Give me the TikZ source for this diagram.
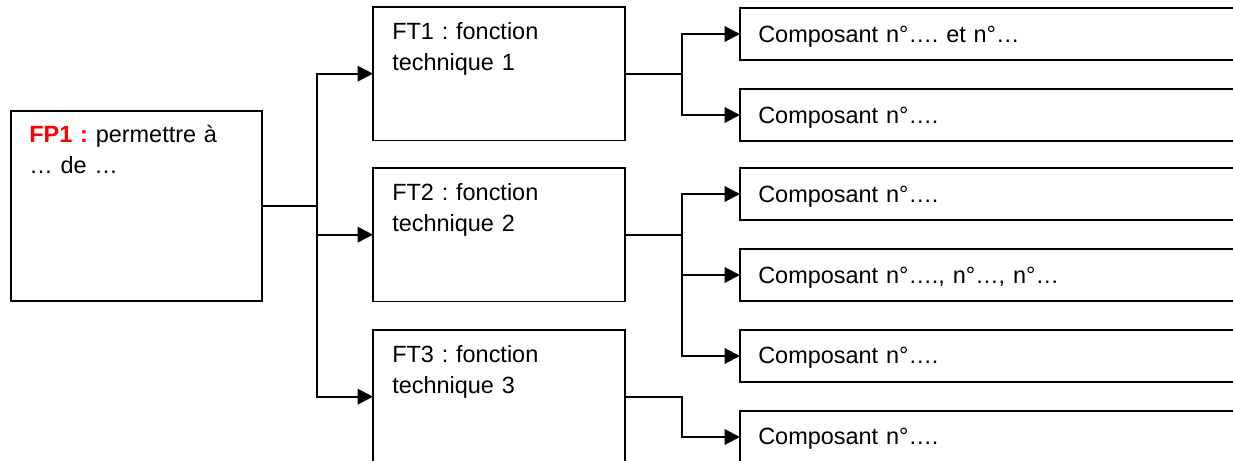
\documentclass[tikz,border=0pt]{standalone}
\usepackage{fontspec}
\setmainfont{Liberation Sans}
\usetikzlibrary{arrows.meta}
\definecolor{fpred}{RGB}{255,0,0}
\frenchspacing

\begin{document}
\begin{tikzpicture}[x=0.75pt,y=-0.75pt,
  box/.style={draw=black, line width=1pt, fill=white, inner sep=0pt, outer sep=0pt, anchor=north west},
  ftbox/.style={box, minimum width=189pt, minimum height=100pt},
  compbox/.style={box, minimum width=405pt, minimum height=39pt},
  conn/.style={line width=1.6pt, -{Triangle[length=11.5pt,width=11.5pt]}},
  txt/.style={anchor=base west, inner sep=0pt, align=left, text width=330pt,
    font=\fontsize{17.6pt}{23.25pt}\selectfont},
]
\useasboundingbox (0,0) rectangle (1233,461);
\clip (0,0) rectangle (1233,461);

% main function
\node[box, minimum width=188.25pt, minimum height=142.5pt] (fp1) at (11,111) {};
\node[txt] (fp1t) at (29,142) {{\bfseries\color{fpred}FP1 :} permettre à\\… de …};

% technical functions
\node[ftbox] (ft1) at (373,7) {};
\node[ftbox] (ft2) at (373,168) {};
\node[ftbox] (ft3) at (373,330) {};
\node[txt] (ft1t) at (392,39.5) {FT1 : fonction\\technique 1};
\node[txt] (ft2t) at (392,200.5) {FT2 : fonction\\technique 2};
\node[txt] (ft3t) at (392,362.5) {FT3 : fonction\\technique 3};

% components
\node[compbox] (c1) at (740,8) {};
\node[compbox] (c2) at (740,89) {};
\node[compbox] (c3) at (740,168) {};
\node[compbox] (c4) at (740,249) {};
\node[compbox] (c5) at (740,330) {};
\node[compbox] (c6) at (740,411) {};
\node[txt] (c1t) at (758,42) {Composant n°…. et n°…};
\node[txt] (c2t) at (758,123) {Composant n°….};
\node[txt] (c3t) at (758,202) {Composant n°….};
\node[txt] (c4t) at (758,283) {Composant n°…., n°…, n°…};
\node[txt] (c5t) at (758,363) {Composant n°….};
\node[txt] (c6t) at (758,444) {Composant n°….};

% connectors
\draw[conn] (fp1.east) -- ++(55,0) |- (ft1.west);
\draw[conn] (fp1.east) -- ++(55,0) |- (ft2.west);
\draw[conn] (fp1.east) -- ++(55,0) |- (ft3.west);
\draw[conn] (ft1.east) -- ++(57,0) |- (c1.west);
\draw[conn] (ft1.east) -- ++(57,0) |- (c2.west);
\draw[conn] (ft2.east) -- ++(57,0) |- (c3.west);
\draw[conn] (ft2.east) -- ++(57,0) |- (c4.west);
\draw[conn] (ft2.east) -- ++(57,0) |- (c5.west);
\draw[conn] (ft3.east) -- ++(57,0) |- (c6.west);
\end{tikzpicture}
\end{document}
